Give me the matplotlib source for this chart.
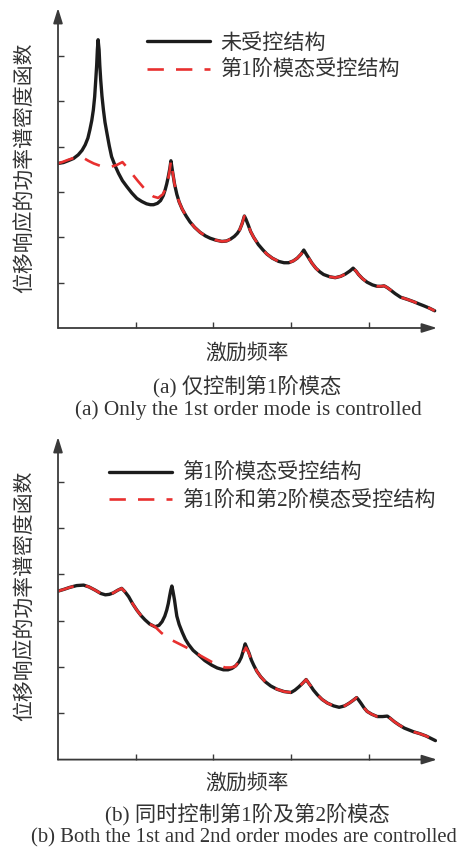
import matplotlib
matplotlib.use("Agg")
import matplotlib.pyplot as plt

# ---------------- data ----------------
# (a) panel: uncontrolled structure
freq_a_unctrl = [0.0, 0.07, 0.13, 0.20, 0.26, 0.31, 0.35, 0.385, 0.41, 0.435, 0.455, 0.472,
                 0.486, 0.498, 0.507, 0.516, 0.529, 0.538, 0.55, 0.566, 0.585, 0.605, 0.63,
                 0.66, 0.69, 0.735, 0.78, 0.83, 0.886, 0.95, 1.015, 1.08, 1.14, 1.19, 1.23,
                 1.28, 1.32, 1.355, 1.38, 1.40, 1.42, 1.44, 1.454,
                 1.475, 1.50, 1.53, 1.56, 1.60, 1.65, 1.70, 1.76, 1.83, 1.90, 1.96, 2.03,
                 2.11, 2.17, 2.22, 2.27, 2.31, 2.34, 2.37, 2.40, 2.42, 2.45, 2.48, 2.52,
                 2.58, 2.64, 2.69, 2.76, 2.84, 2.91, 2.97, 3.03, 3.08, 3.13, 3.165, 3.20,
                 3.23, 3.27, 3.32, 3.37, 3.42, 3.50, 3.57, 3.64, 3.70, 3.76, 3.80, 3.84,
                 3.87, 3.92, 3.98, 4.05, 4.11, 4.16, 4.20, 4.24, 4.28, 4.34, 4.41, 4.50,
                 4.58, 4.65, 4.71, 4.78, 4.85]
psd_a_unctrl = [3.63, 3.65, 3.69, 3.74, 3.82, 3.92, 4.04, 4.19, 4.37, 4.58, 4.81, 5.10,
                5.47, 5.80, 6.14, 6.36, 6.14, 5.80, 5.47, 5.12, 4.81, 4.54, 4.30,
                4.02, 3.78, 3.58, 3.41, 3.25, 3.12, 2.98, 2.86, 2.79, 2.74, 2.72, 2.72,
                2.75, 2.81, 2.92, 3.05, 3.18, 3.34, 3.52, 3.69,
                3.45, 3.18, 2.95, 2.78, 2.62, 2.47, 2.34, 2.22, 2.11, 2.03, 1.98, 1.94,
                1.91, 1.92, 1.96, 2.02, 2.09, 2.17, 2.30, 2.47, 2.40, 2.27, 2.13, 2.00,
                1.84, 1.72, 1.63, 1.54, 1.47, 1.44, 1.44, 1.48, 1.54, 1.63, 1.72, 1.62,
                1.54, 1.43, 1.32, 1.24, 1.18, 1.13, 1.11, 1.14, 1.19, 1.26, 1.32, 1.25,
                1.18, 1.09, 1.01, 0.95, 0.92, 0.92, 0.93, 0.89, 0.84, 0.76, 0.68, 0.63,
                0.58, 0.53, 0.49, 0.44, 0.38]

# (a) panel: 1st mode controlled
freq_a_mode1 = [0.0, 0.07, 0.13, 0.20, 0.28, 0.34, 0.39, 0.46, 0.54, 0.62, 0.69, 0.76, 0.83,
                0.88, 0.95, 1.03, 1.10, 1.17, 1.23, 1.29, 1.35, 1.40, 1.42, 1.44, 1.454,
                1.475, 1.50, 1.53, 1.56, 1.60, 1.65, 1.70, 1.76, 1.83, 1.90, 1.96, 2.03,
                2.11, 2.17, 2.22, 2.27, 2.31, 2.34, 2.37, 2.40, 2.42, 2.45, 2.48, 2.52,
                2.58, 2.64, 2.69, 2.76, 2.84, 2.91, 2.97, 3.03, 3.08, 3.13, 3.165, 3.20,
                3.23, 3.27, 3.32, 3.37, 3.42, 3.50, 3.57, 3.64, 3.70, 3.76, 3.80, 3.84,
                3.87, 3.92, 3.98, 4.05, 4.11, 4.16, 4.20, 4.24, 4.28, 4.34, 4.41, 4.50,
                4.58, 4.65, 4.71, 4.78, 4.85]
psd_a_mode1 = [3.63, 3.67, 3.71, 3.75, 3.78, 3.74, 3.69, 3.63, 3.58, 3.56, 3.56, 3.60, 3.66,
               3.56, 3.41, 3.24, 3.10, 2.97, 2.90, 2.87, 2.95, 3.12, 3.30, 3.50, 3.69,
               3.45, 3.18, 2.95, 2.78, 2.62, 2.47, 2.34, 2.22, 2.11, 2.03, 1.98, 1.94,
               1.91, 1.92, 1.96, 2.02, 2.09, 2.17, 2.30, 2.47, 2.40, 2.27, 2.13, 2.00,
               1.84, 1.72, 1.63, 1.54, 1.47, 1.44, 1.44, 1.48, 1.54, 1.63, 1.72, 1.62,
               1.54, 1.43, 1.32, 1.24, 1.18, 1.13, 1.11, 1.14, 1.19, 1.26, 1.32, 1.25,
               1.18, 1.09, 1.01, 0.95, 0.92, 0.92, 0.93, 0.89, 0.84, 0.76, 0.68, 0.63,
               0.58, 0.53, 0.49, 0.44, 0.38]

# (b) panel: 1st mode controlled
freq_b_mode1 = [0.0, 0.08, 0.15, 0.24, 0.33, 0.40, 0.48, 0.55, 0.61, 0.66, 0.71, 0.77, 0.82,
                0.86, 0.91, 0.96, 1.015, 1.07, 1.12, 1.18, 1.25, 1.30, 1.34, 1.375, 1.40,
                1.42, 1.436, 1.452, 1.466, 1.48, 1.50, 1.515, 1.53, 1.56, 1.60, 1.64, 1.68,
                1.74, 1.81, 1.89, 1.98, 2.05, 2.13, 2.19, 2.24, 2.29, 2.33, 2.36, 2.38,
                2.41, 2.435, 2.46, 2.49, 2.52, 2.56, 2.61, 2.67, 2.74, 2.82, 2.91, 3.0,
                3.05, 3.10, 3.15, 3.195, 3.22, 3.25, 3.29, 3.34, 3.40, 3.47, 3.55, 3.62,
                3.69, 3.75, 3.80, 3.845, 3.87, 3.90, 3.94, 3.98, 4.04, 4.11, 4.18, 4.24,
                4.28, 4.33, 4.39, 4.46, 4.52, 4.58, 4.66, 4.74, 4.80, 4.86]
psd_b_mode1 = [3.64, 3.68, 3.72, 3.76, 3.77, 3.73, 3.66, 3.59, 3.56, 3.57, 3.60, 3.66, 3.70,
               3.63, 3.52, 3.37, 3.23, 3.11, 3.02, 2.93, 2.87, 2.90, 2.98, 3.10, 3.23,
               3.37, 3.52, 3.66, 3.75, 3.64, 3.45, 3.27, 3.10, 2.92, 2.75, 2.60, 2.49,
               2.36, 2.26, 2.14, 2.04, 1.98, 1.94, 1.94, 1.97, 2.03, 2.11, 2.21, 2.32,
               2.50, 2.40, 2.30, 2.15, 2.04, 1.91, 1.79, 1.68, 1.59, 1.52, 1.47, 1.45,
               1.50, 1.57, 1.65, 1.73, 1.67, 1.60, 1.50, 1.40, 1.30, 1.22, 1.16, 1.13,
               1.16, 1.22, 1.28, 1.34, 1.29, 1.22, 1.12, 1.04, 0.98, 0.93, 0.93, 0.94,
               0.89, 0.82, 0.75, 0.68, 0.64, 0.60, 0.56, 0.51, 0.46, 0.41]

# (b) panel: 1st and 2nd modes controlled
freq_b_mode12 = [0.0, 0.08, 0.15, 0.24, 0.33, 0.40, 0.48, 0.55, 0.61, 0.66, 0.71, 0.77, 0.82,
                 0.86, 0.91, 0.96, 1.015, 1.07, 1.12, 1.18, 1.25,
                 1.33, 1.42, 1.55, 1.68, 1.83, 1.98, 2.07, 2.15, 2.22, 2.28, 2.33, 2.37,
                 2.42, 2.45, 2.49,
                 2.52, 2.56, 2.61, 2.67, 2.74, 2.82, 2.91, 3.0,
                 3.05, 3.10, 3.15, 3.195, 3.22, 3.25, 3.29, 3.34, 3.40, 3.47, 3.55, 3.62,
                 3.69, 3.75, 3.80, 3.845, 3.87, 3.90, 3.94, 3.98, 4.04, 4.11, 4.18, 4.24,
                 4.28, 4.33, 4.39, 4.46, 4.52, 4.58, 4.66, 4.74, 4.80, 4.86]
psd_b_mode12 = [3.64, 3.68, 3.72, 3.76, 3.77, 3.73, 3.66, 3.59, 3.56, 3.57, 3.60, 3.66, 3.70,
                3.63, 3.52, 3.37, 3.23, 3.11, 3.02, 2.93, 2.87,
                2.74, 2.62, 2.51, 2.40, 2.25, 2.11, 2.04, 1.99, 1.99, 2.01, 2.12, 2.26,
                2.42, 2.33, 2.15,
                2.04, 1.91, 1.79, 1.68, 1.59, 1.52, 1.47, 1.45,
                1.50, 1.57, 1.65, 1.73, 1.67, 1.60, 1.50, 1.40, 1.30, 1.22, 1.16, 1.13,
                1.16, 1.22, 1.28, 1.34, 1.29, 1.22, 1.12, 1.04, 0.98, 0.93, 0.93, 0.94,
                0.89, 0.82, 0.75, 0.68, 0.64, 0.60, 0.56, 0.51, 0.46, 0.41]

x_ticks = [1, 2, 3, 4]
y_ticks = [1, 2, 3, 4, 5, 6]

ylabel_text = "位移响应的功率谱密度函数"
xlabel_text = "激励频率"
legend_a = ["未受控结构", "第1阶模态受控结构"]
legend_b = ["第1阶模态受控结构", "第1阶和第2阶模态受控结构"]
caption_a_cn = "(a) 仅控制第1阶模态"
caption_a_en = "(a) Only the 1st order mode is controlled"
caption_b_cn = "(b) 同时控制第1阶及第2阶模态"
caption_b_en = "(b) Both the 1st and 2nd order modes are controlled"

# ---------------- style ----------------
FAM = ["Liberation Serif", "Noto Sans CJK SC"]
CJK = ["Noto Sans CJK SC", "Liberation Serif"]
TXT = "#333333"
BLACK = "#1c1c1c"
RED = "#e8302f"
AXC = "#3a3a3a"

W, H = 471, 848
fig = plt.figure(figsize=(W / 100, H / 100), dpi=100)


def px_axes(left, top, right, bottom):
    return fig.add_axes([left / W, 1 - bottom / H, (right - left) / W, (bottom - top) / H])


def style_axes(ax, ytop):
    ax.set_xlim(0, 4.88)
    ax.set_ylim(0, ytop)
    for s in ax.spines.values():
        s.set_visible(False)
    ax.set_xticks(x_ticks)
    ax.set_yticks(y_ticks)
    ax.set_xticklabels([])
    ax.set_yticklabels([])
    ax.tick_params(direction="in", length=4.5, width=1.0, colors=AXC)
    arrow = dict(arrowstyle="-|>,head_length=0.9,head_width=0.28", lw=1.3,
                 color=AXC, shrinkA=0, shrinkB=0)
    ax.annotate("", xy=(1, 0), xytext=(0, 0), xycoords="axes fraction",
                arrowprops=arrow, annotation_clip=False)
    ax.annotate("", xy=(0, 1), xytext=(0, 0), xycoords="axes fraction",
                arrowprops=arrow, annotation_clip=False)


def draw_series(ax, x1, y1, l1, x2, y2, l2, anchor_px):
    ax.plot(x1, y1, color=BLACK, lw=2.4, label=l1,
            solid_joinstyle="round", solid_capstyle="round")
    ax.plot(x2, y2, color=RED, lw=1.9, dashes=(6.2, 4.6), label=l2)
    leg = ax.legend(loc="upper left",
                    bbox_to_anchor=(anchor_px[0] / W, 1 - anchor_px[1] / H),
                    bbox_transform=fig.transFigure, frameon=False, borderpad=0,
                    borderaxespad=0, handlelength=3.0, handletextpad=0.45,
                    labelspacing=0.34, prop={"family": FAM, "size": 15.2})
    for t in leg.get_texts():
        t.set_color(TXT)


# ---------- panel (a) ----------
ax1 = px_axes(58, 8, 437, 328)
style_axes(ax1, 7.06)
draw_series(ax1, freq_a_unctrl, psd_a_unctrl, legend_a[0],
            freq_a_mode1, psd_a_mode1, legend_a[1], (147, 34))

fig.text(25 / W, 1 - 168 / H, ylabel_text, rotation=90, ha="center", va="center",
         family=CJK, fontsize=15, color=TXT)
fig.text(247 / W, 1 - 353 / H, xlabel_text, ha="center", va="center",
         family=CJK, fontsize=15, color=TXT)
fig.text(247 / W, 1 - 387 / H, caption_a_cn, ha="center", va="center",
         family=FAM, fontsize=15.3, color=TXT)
fig.text(248 / W, 1 - 410 / H, caption_a_en, ha="center", va="center",
         family=FAM, fontsize=15.3, color=TXT)

# ---------- panel (b) ----------
ax2 = px_axes(58, 437, 437, 759.6)
style_axes(ax2, 6.97)
draw_series(ax2, freq_b_mode1, psd_b_mode1, legend_b[0],
            freq_b_mode12, psd_b_mode12, legend_b[1], (109, 464))

fig.text(25 / W, 1 - 596 / H, ylabel_text, rotation=90, ha="center", va="center",
         family=CJK, fontsize=15, color=TXT)
fig.text(247 / W, 1 - 783 / H, xlabel_text, ha="center", va="center",
         family=CJK, fontsize=15, color=TXT)
fig.text(247 / W, 1 - 815 / H, caption_b_cn, ha="center", va="center",
         family=FAM, fontsize=15.3, color=TXT)
fig.text(244 / W, 1 - 838 / H, caption_b_en, ha="center", va="center",
         family=FAM, fontsize=14.9, color=TXT)

fig.savefig("out.png", dpi=100)
